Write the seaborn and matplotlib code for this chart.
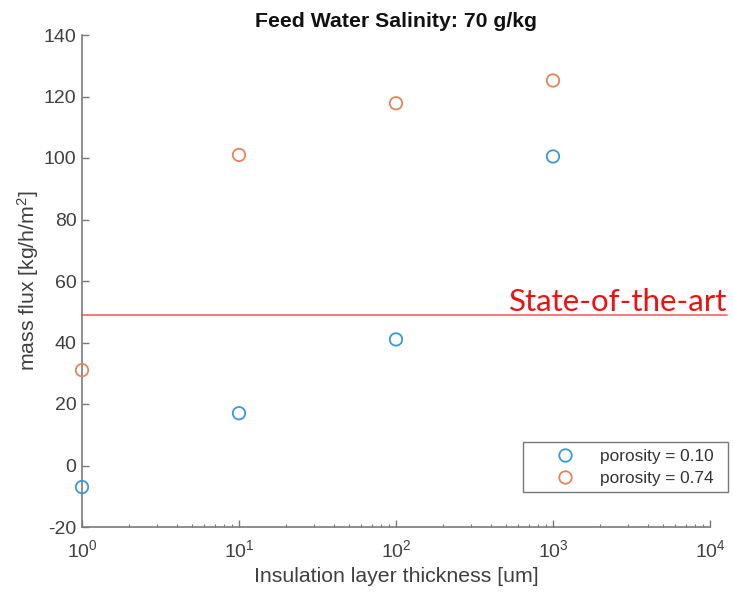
import matplotlib
matplotlib.use("Agg")
import matplotlib.pyplot as plt
import seaborn as sns
import pandas as pd
from matplotlib.lines import Line2D

thickness = [1, 10, 100, 1000]
flux_p010 = [-7, 17, 41, 100.5]
flux_p074 = [31, 101, 117.8, 125.2]
series_labels = ["porosity = 0.10", "porosity = 0.74"]
state_of_the_art = 49
title = "Feed Water Salinity: 70 g/kg"

df = pd.DataFrame({
    "x": thickness * 2,
    "y": flux_p010 + flux_p074,
    "s": [series_labels[0]] * 4 + [series_labels[1]] * 4,
})

sns.set_style("white")
plt.rcParams["font.family"] = ["Liberation Sans", "DejaVu Sans"]
plt.rcParams["axes.unicode_minus"] = False
plt.rcParams["mathtext.fontset"] = "custom"
plt.rcParams["mathtext.rm"] = "Liberation Sans"
plt.rcParams["mathtext.it"] = "Liberation Sans"
plt.rcParams["mathtext.default"] = "regular"

colors = ["#3b99d6", "#e4845c"]
axc = "#7a7a7a"
txc = "#404040"

fig = plt.figure(figsize=(7.33, 5.95), dpi=100)
ax = fig.add_axes([82/733, 1-527/595, 628/733, 492/595])

sns.scatterplot(data=df, x="x", y="y", hue="s", palette=colors, s=80,
                linewidth=1.3, legend=False, ax=ax, clip_on=False, zorder=3)
for coll in ax.collections:
    fc = coll.get_facecolors()
    coll.set_edgecolors(fc)
    coll.set_facecolors("none")

ax.set_xscale("log")
ax.set_xlim(1, 1e4)
ax.set_ylim(-20, 140)
ax.set_yticks(range(-20, 141, 20))
ax.set_xticks([1, 10, 100, 1000, 10000])

for s in ["top", "right"]:
    ax.spines[s].set_visible(False)
for s in ["left", "bottom"]:
    ax.spines[s].set_color(axc)
    ax.spines[s].set_linewidth(1.2)

ax.tick_params(axis="both", which="major", direction="in", length=5, width=1,
               color=axc, labelcolor=txc, labelsize=14, left=True, bottom=True)
ax.tick_params(axis="y", which="major", pad=4)
ax.tick_params(axis="x", which="major", pad=9)
ax.tick_params(axis="x", which="minor", direction="in", length=2.5, width=0.8,
               color=axc, bottom=True)

ax.set_xlabel("Insulation layer thickness [um]", fontsize=15.3, color=txc, labelpad=4)
ax.set_ylabel("mass flux [kg/h/m$^2$]", fontsize=15.3, color=txc, labelpad=2)
ax.set_title(title, fontsize=15.3, fontweight="bold", color="#111111", pad=6)

# state-of-the-art line extending slightly beyond axes
ax.add_line(Line2D([0, 1.027], [state_of_the_art, state_of_the_art],
                   transform=ax.get_yaxis_transform(), color="#f26464",
                   lw=1.2, clip_on=False, zorder=2))
fig.text(727/733, 1-311/595, "State-of-the-art", ha="right", va="baseline",
         color="#ee1111", fontsize=22.5, family=["Lato", "DejaVu Sans"])

handles = [Line2D([], [], marker="o", ls="none", markerfacecolor="none",
                  markeredgecolor=c, markersize=9, markeredgewidth=1.3) for c in colors]
leg = fig.legend(handles, series_labels, loc="upper left", mode="expand",
                 bbox_to_anchor=(523/733, 1-442/595, 205/733, 0), frameon=True,
                 fancybox=False, edgecolor="#555555", fontsize=12.4,
                 labelcolor="#333333", handletextpad=0.0, borderpad=0.38,
                 labelspacing=0.42, borderaxespad=0, handlelength=4.1)
leg.get_frame().set_linewidth(1.0)

fig.savefig("out.png", dpi=100)
